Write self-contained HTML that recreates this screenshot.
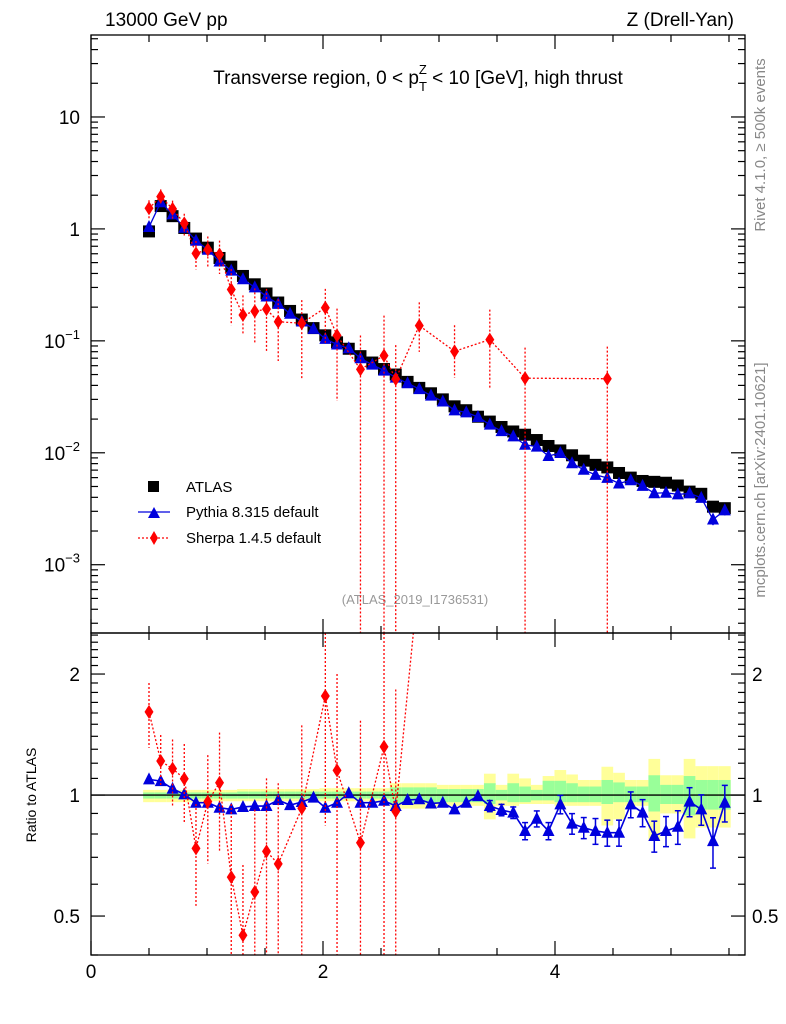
<!DOCTYPE html>
<html><head><meta charset="utf-8"><style>
html,body{margin:0;padding:0;background:#fff;width:786px;height:1024px;overflow:hidden}
svg{display:block;font-family:"Liberation Sans","DejaVu Sans",sans-serif}
</style></head><body>
<svg id="chart" width="786" height="1024" viewBox="0 0 786 1024" xmlns="http://www.w3.org/2000/svg">
<text x="105" y="26" font-size="19">13000 GeV pp</text>
<text x="734" y="26" font-size="19" text-anchor="end">Z (Drell-Yan)</text>
<text x="418" y="84" font-size="19" text-anchor="middle">Transverse region, 0 &lt; p<tspan font-size="13" dy="7">T</tspan><tspan font-size="13" dx="-8" dy="-17">Z</tspan><tspan dy="10"> &lt; 10 [GeV], high thrust</tspan></text>
<text transform="translate(765,145) rotate(-90)" font-size="15" fill="#888" text-anchor="middle">Rivet 4.1.0, ≥ 500k events</text>
<text transform="translate(765,480) rotate(-90)" font-size="15" fill="#888" text-anchor="middle">mcplots.cern.ch [arXiv:2401.10621]</text>
<text x="415" y="604" font-size="13" fill="#999" text-anchor="middle">(ATLAS_2019_I1736531)</text>
<text transform="translate(36,795) rotate(-90)" font-size="14" text-anchor="middle">Ratio to ATLAS</text>
<g id="bands"></g><g id="grid"></g><g id="marks"></g><g id="axes"></g>
<g>
<rect x="148" y="481" width="11" height="11" fill="#000"/>
<text x="186" y="492" font-size="15">ATLAS</text>
<line x1="138" y1="512" x2="170" y2="512" stroke="#0000dd" stroke-width="1.2"/>
<polygon points="148,518 160,518 154,507" fill="#0000dd"/>
<text x="186" y="517" font-size="15">Pythia 8.315 default</text>
<line x1="138" y1="538" x2="170" y2="538" stroke="#f00" stroke-width="1.2" stroke-dasharray="2,2"/>
<polygon points="154,531 158,538 154,545 150,538" fill="#f00"/>
<text x="186" y="543" font-size="15">Sherpa 1.4.5 default</text>
</g>
</svg>
<script>
const xCenters=[0.5,0.601,0.703,0.804,0.905,1.007,1.108,1.209,1.31,1.412,1.513,1.614,1.716,1.817,1.918,2.02,2.121,2.222,2.323,2.425,2.526,2.627,2.729,2.83,2.931,3.033,3.134,3.235,3.336,3.438,3.539,3.64,3.742,3.843,3.944,4.046,4.147,4.248,4.349,4.451,4.552,4.653,4.755,4.856,4.957,5.059,5.16,5.261,5.362,5.464];
const atlasValues=[0.95,1.6,1.3,1.02,0.82,0.68,0.55,0.46,0.38,0.32,0.265,0.22,0.185,0.155,0.13,0.112,0.097,0.085,0.073,0.064,0.056,0.05,0.043,0.038,0.034,0.03,0.026,0.024,0.021,0.019,0.017,0.0155,0.0145,0.013,0.0115,0.0105,0.0095,0.0085,0.0078,0.0074,0.0066,0.006,0.0056,0.0055,0.0054,0.0051,0.0045,0.0043,0.0033,0.0032];
const pythiaRatio=[1.094,1.083,1.037,1.004,0.957,0.957,0.930,0.921,0.934,0.939,0.939,0.972,0.944,0.961,0.985,0.930,0.957,1.01,0.957,0.957,0.968,0.939,0.972,0.976,0.953,0.957,0.921,0.957,0.994,0.939,0.918,0.904,0.814,0.873,0.814,0.948,0.849,0.829,0.814,0.806,0.806,0.948,0.904,0.791,0.814,0.834,0.963,0.921,0.768,0.957];
const pythiaErr=[0.005,0.005,0.005,0.005,0.005,0.005,0.005,0.005,0.005,0.005,0.005,0.005,0.006,0.006,0.006,0.006,0.007,0.007,0.008,0.008,0.01,0.01,0.01,0.012,0.012,0.015,0.015,0.02,0.02,0.03,0.03,0.03,0.04,0.04,0.04,0.05,0.05,0.05,0.06,0.06,0.06,0.07,0.07,0.07,0.07,0.08,0.08,0.08,0.11,0.1];
const sherpaIdx=[0,1,2,3,4,5,6,7,8,9,10,11,13,15,16,18,20,21,23,26,29,32,39];
const sherpaRatio=[1.61,1.215,1.163,1.098,0.737,0.963,1.073,0.625,0.448,0.574,0.724,0.674,0.927,1.764,1.152,0.761,1.319,0.911,3.6,3.1,5.4,3.2,6.2];
const sherpaLo=[1.31,1.05,0.94,0.857,0.53,0.675,0.72,0.3,0.3,0.3,0.3,0.3,0.3,0.84,0.3,0.001,0.001,0.001,2.1,1.8,2.0,0.001,0.001];
const sherpaHi=[1.90,1.41,1.375,1.34,0.95,1.257,1.43,0.95,0.67,0.92,1.1,1.07,1.49,2.6,2.0,1.53,3.0,1.83,5.8,5.3,10,6.0,12];
const yellowUp=[1.03,1.03,1.03,1.03,1.03,1.03,1.03,1.03,1.035,1.035,1.035,1.035,1.035,1.035,1.035,1.04,1.04,1.04,1.04,1.04,1.04,1.07,1.07,1.07,1.07,1.06,1.06,1.06,1.06,1.13,1.06,1.13,1.1,1.06,1.115,1.154,1.125,1.09,1.09,1.176,1.136,1.09,1.09,1.23,1.12,1.12,1.23,1.18,1.18,1.18];
const yellowDn=[0.96,0.96,0.96,0.96,0.96,0.965,0.965,0.965,0.965,0.965,0.965,0.965,0.965,0.965,0.965,0.965,0.965,0.965,0.965,0.965,0.965,0.925,0.925,0.925,0.925,0.94,0.94,0.94,0.94,0.87,0.94,0.94,0.95,0.95,0.95,0.94,0.94,0.94,0.94,0.84,0.87,0.94,0.94,0.77,0.9,0.9,0.78,0.83,0.83,0.83];
const greenUp=[1.015,1.015,1.015,1.015,1.015,1.015,1.015,1.015,1.02,1.02,1.02,1.02,1.02,1.02,1.02,1.02,1.02,1.02,1.02,1.02,1.02,1.045,1.045,1.045,1.045,1.035,1.035,1.035,1.035,1.07,1.03,1.07,1.05,1.03,1.085,1.085,1.07,1.05,1.05,1.09,1.075,1.05,1.05,1.12,1.06,1.06,1.115,1.09,1.09,1.09];
const greenDn=[0.98,0.98,0.98,0.98,0.98,0.98,0.98,0.98,0.98,0.98,0.98,0.98,0.98,0.98,0.98,0.98,0.98,0.98,0.98,0.98,0.98,0.955,0.955,0.955,0.955,0.96,0.96,0.96,0.96,0.95,0.97,0.96,0.96,0.97,0.97,0.96,0.96,0.96,0.96,0.95,0.96,0.96,0.96,0.91,0.95,0.95,0.89,0.92,0.92,0.92];
const mainTicks=[[10,"10"],[1,"1"],[0.1,"10^-1"],[0.01,"10^-2"],[0.001,"10^-3"]];
const ratioTicks=[[2,"2"],[1,"1"],[0.5,"0.5"]];
const xTicks=[0,2,4];

const NS="http://www.w3.org/2000/svg";
const L=91,R=745,T1=35,B1=633,T2=633,B2=955;
const XMAX=5.638;
const sx=v=>L+(R-L)*v/XMAX;
const LMAX=Math.log10(54),LMIN=-3.61;
const sy=v=>T1+(B1-T1)*(LMAX-Math.log10(Math.max(v,1e-9)))/(LMAX-LMIN);
const RTOP=2.53,RMAX=Math.log10(2.53),RMIN=Math.log10(0.4);
const ry=v=>T2+(B2-T2)*(RMAX-Math.log10(Math.max(v,1e-9)))/(RMAX-RMIN);
const c1y=y=>Math.max(T1,Math.min(B1,y));
const c2y=y=>Math.max(T2,Math.min(B2,y));
function mk(tag,attrs,parent){const e=document.createElementNS(NS,tag);for(const k in attrs)e.setAttribute(k,attrs[k]);parent.appendChild(e);return e;}
const bands=document.getElementById('bands'),marks=document.getElementById('marks'),axes=document.getElementById('axes');

const half=(xCenters[1]-xCenters[0])/2;
xCenters.forEach((x,i)=>{
 const x0=sx(x-half),x1=sx(x+half);
 let r=mk('rect',{x:x0,y:ry(yellowUp[i]),width:x1-x0,height:ry(yellowDn[i])-ry(yellowUp[i]),fill:'#ffff99'},bands);
 
 
 r=mk('rect',{x:x0,y:ry(greenUp[i]),width:x1-x0,height:ry(greenDn[i])-ry(greenUp[i]),fill:'#99ff99'},bands);
 
 
});
let ref=mk('line',{x1:L,x2:R,y1:ry(1),y2:ry(1),stroke:'#000','stroke-width':1.3},bands);



const defs=mk('defs',{},marks);
const c1=mk('clipPath',{id:'c1'},defs);mk('rect',{x:L,y:T1,width:R-L,height:B1-T1},c1);
const c2=mk('clipPath',{id:'c2'},defs);mk('rect',{x:L,y:T2,width:R-L,height:B2-T2},c2);
const g1=mk('g',{'clip-path':'url(#c1)'},marks);
const g2=mk('g',{'clip-path':'url(#c2)'},marks);

function tri(g,x,y,name){const p=mk('polygon',{points:`${x-6},${y+5} ${x+6},${y+5} ${x},${y-7}`,fill:'#0000dd'},g);
 
 }
function dia(g,x,y,name){const p=mk('polygon',{points:`${x},${y-7} ${x+4.5},${y} ${x},${y+7} ${x-4.5},${y}`,fill:'#f00'},g);
 
 }

xCenters.forEach((x,i)=>{
 const r=mk('rect',{x:sx(x)-6,y:sy(atlasValues[i])-6,width:12,height:12,fill:'#000'},g1);
 
 
});
let pm=xCenters.map((x,i)=>sx(x)+','+sy(atlasValues[i]*pythiaRatio[i])).join(' ');
let pl=mk('polyline',{points:pm,fill:'none',stroke:'#0000dd','stroke-width':1.3},g1);


let pr=xCenters.map((x,i)=>sx(x)+','+ry(pythiaRatio[i])).join(' ');
pl=mk('polyline',{points:pr,fill:'none',stroke:'#0000dd','stroke-width':1.6},g2);


xCenters.forEach((x,i)=>{
 const X=sx(x),v=atlasValues[i]*pythiaRatio[i],e=pythiaErr[i];
 if(e>0.02){mk('line',{x1:X,x2:X,y1:sy(v*(1+e)),y2:sy(v*(1-e)),stroke:'#0000dd','stroke-width':1.5},g1);}
 mk('line',{x1:X,x2:X,y1:ry(pythiaRatio[i]+e),y2:ry(pythiaRatio[i]-e),stroke:'#0000dd','stroke-width':1.5},g2);
 if(e>0.02){mk('line',{x1:X-3,x2:X+3,y1:ry(pythiaRatio[i]+e),y2:ry(pythiaRatio[i]+e),stroke:'#0000dd','stroke-width':1.5},g2);
 mk('line',{x1:X-3,x2:X+3,y1:ry(pythiaRatio[i]-e),y2:ry(pythiaRatio[i]-e),stroke:'#0000dd','stroke-width':1.5},g2);}
 tri(g1,X,sy(v),'pythia-point');
 tri(g2,X,ry(pythiaRatio[i]),'pythia-ratio-point');
});
const dash={fill:'none',stroke:'#f00','stroke-width':1.3,'stroke-dasharray':'2,2'};
let sm=sherpaIdx.map((k,j)=>sx(xCenters[k])+','+sy(atlasValues[k]*sherpaRatio[j])).join(' ');
pl=mk('polyline',Object.assign({points:sm},dash),g1);


let sr=sherpaIdx.map((k,j)=>sx(xCenters[k])+','+Math.max(T2-60,ry(sherpaRatio[j]))).join(' ');
pl=mk('polyline',Object.assign({points:sr},dash),g2);


sherpaIdx.forEach((k,j)=>{
 const X=sx(xCenters[k]),a=atlasValues[k];
 mk('line',Object.assign({x1:X,x2:X,y1:c1y(sy(a*sherpaHi[j])),y2:c1y(sy(a*sherpaLo[j]))},dash),g1);
 dia(g1,X,sy(a*sherpaRatio[j]),'sherpa-point');
 if(sherpaRatio[j]<RTOP){
  mk('line',Object.assign({x1:X,x2:X,y1:c2y(ry(sherpaHi[j])),y2:c2y(ry(sherpaLo[j]))},dash),g2);
  dia(g2,X,ry(sherpaRatio[j]),'sherpa-ratio-point');
 }
});

[[T1,B1],[T2,B2]].forEach(([t,b])=>{mk('rect',{x:L,y:t,width:R-L,height:b-t,fill:'none',stroke:'#000','stroke-width':1.3},axes);});
[[T1,B1],[T2,B2]].forEach(([t,b])=>{
 for(let v=0;v<=XMAX+1e-9;v+=0.5){
  const X=sx(v),maj=Math.abs(v%2)<1e-6,len=maj?14:7;
  mk('line',{x1:X,x2:X,y1:b,y2:b-len,stroke:'#000','stroke-width':1.2},axes);
  mk('line',{x1:X,x2:X,y1:t,y2:t+len,stroke:'#000','stroke-width':1.2},axes);
 }
});
xTicks.forEach(v=>{const t=mk('text',{x:sx(v),y:978,'font-size':19,'text-anchor':'middle'},axes);t.textContent=v;
 
 });
for(let d=-4;d<=1;d++){for(let m=1;m<=9;m++){const v=m*Math.pow(10,d);const y=sy(v);if(y<T1||y>B1)continue;const len=m===1?14:7;
 mk('line',{x1:L,x2:L+len,y1:y,y2:y,stroke:'#000','stroke-width':1.2},axes);
 mk('line',{x1:R,x2:R-len,y1:y,y2:y,stroke:'#000','stroke-width':1.2},axes);}}
mainTicks.forEach(([v,lab])=>{
 const t=mk('text',{x:80,y:sy(v)+7,'font-size':19,'text-anchor':'end'},axes);
 
 
 if(lab.indexOf('^')>0){const p=lab.split('^');t.textContent=p[0];const s=mk('tspan',{dy:-9,'font-size':13},t);s.textContent=p[1].replace('-','\u2212');}
 else t.textContent=lab;
});
for(let v=0.4;v<=2.5+1e-9;v+=0.1){const y=ry(v);if(y<T2||y>B2)continue;const maj=[0.5,1,2].some(q=>Math.abs(q-v)<1e-6);const len=maj?14:7;
 mk('line',{x1:L,x2:L+len,y1:y,y2:y,stroke:'#000','stroke-width':1.2},axes);
 mk('line',{x1:R,x2:R-len,y1:y,y2:y,stroke:'#000','stroke-width':1.2},axes);}
ratioTicks.forEach(([v,lab])=>{
 let t=mk('text',{x:80,y:ry(v)+7,'font-size':19,'text-anchor':'end'},axes);t.textContent=lab;
 
 
 t=mk('text',{x:752,y:ry(v)+7,'font-size':19},axes);t.textContent=lab;
 
 
});
</script>
</body></html>
